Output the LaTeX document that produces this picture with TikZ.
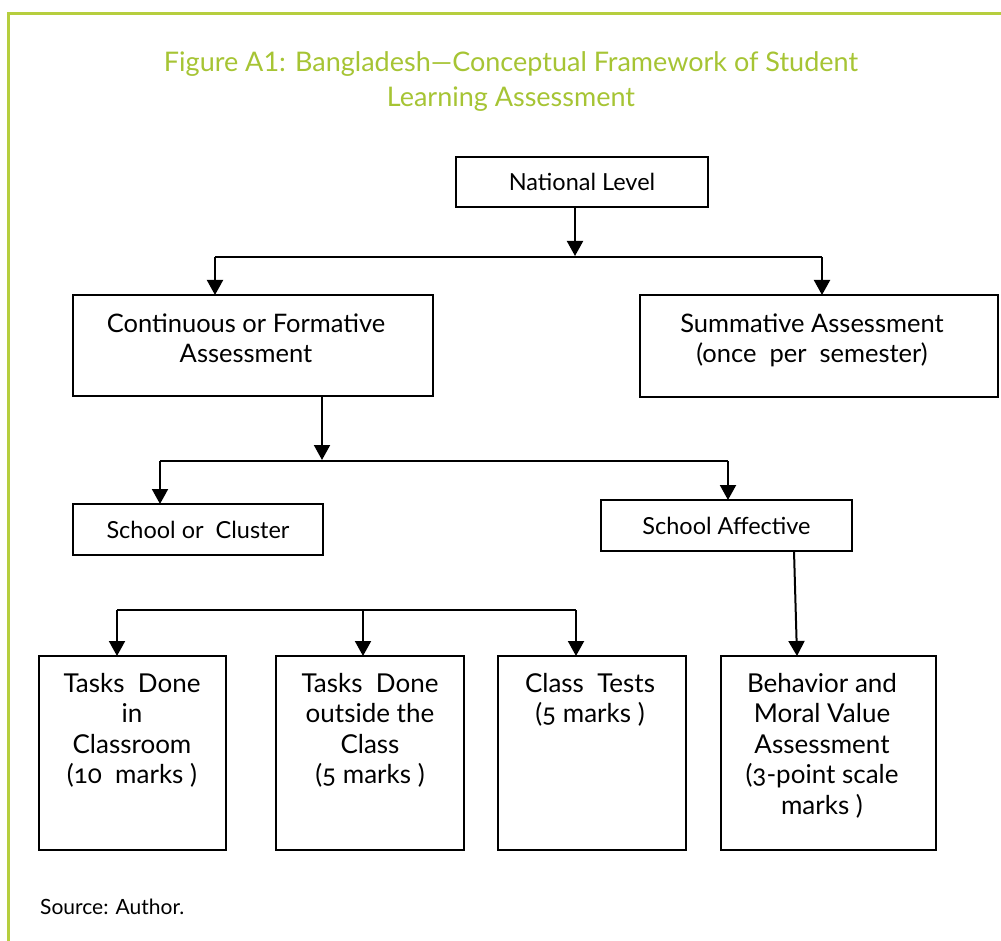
\documentclass[tikz,border=0pt]{standalone}
\usepackage{fontspec}
\setmainfont{Lato}[Numbers=OldStyle]
\usetikzlibrary{arrows.meta}
\definecolor{frameg}{RGB}{182,206,62}
\definecolor{titleg}{RGB}{166,196,52}
\begin{document}
\begin{tikzpicture}[x=1pt,y=-1pt,
  box/.style={draw=black, line width=1.6pt, rectangle, inner sep=0pt, outer sep=0pt},
  boxtxt/.style={font=\fontsize{25.5}{30}\selectfont, align=center, anchor=base, inner sep=0pt},
  lowtxt/.style={font=\fontsize{26}{30.5}\selectfont, align=center, anchor=base, inner sep=0pt},
  onetxt/.style={font=\fontsize{23.5}{28}\selectfont},
  ln/.style={draw=black, line width=2pt},
  arr/.style={ln, -{Triangle[width=16pt,length=15pt]}}]
\useasboundingbox (0,0) rectangle (1001,941);
% frame
\draw[frameg, line width=3pt] (8.5,941) -- (8.5,14) -- (1001,14);
% title (anchor base = last line)
\node[titleg, font=\fontsize{27}{35}\selectfont\addfontfeature{Numbers=Lining}, align=center, anchor=base, inner sep=0pt] (title) at (511,106.5)
  {Figure A1: Bangladesh---Conceptual Framework of Student\\Learning Assessment};
% boxes
\node[box, onetxt, minimum width=252pt, minimum height=50pt] (nat) at (582,182) {National Level};
\node[box, minimum width=360pt, minimum height=101pt] (cont) at (253,345.5) {};
\node[box, minimum width=358pt, minimum height=102pt] (summ) at (819,346) {};
\node[box, onetxt, minimum width=250pt, minimum height=51pt] (school) at (198,529.5) {School or\ \ Cluster};
\node[box, onetxt, minimum width=251pt, minimum height=51pt] (aff) at (726.5,525.5) {School Affective};
\node[box, minimum width=187pt, minimum height=194pt] (b1) at (132.5,753) {};
\node[box, minimum width=188pt, minimum height=194pt] (b2) at (370,753) {};
\node[box, minimum width=188pt, minimum height=194pt] (b3) at (592,753) {};
\node[box, minimum width=215pt, minimum height=194pt] (b4) at (828.5,753) {};
% box texts (anchor base = baseline of last line)
\node[boxtxt] (tcont) at (246,362) {Continuous or Formative\\Assessment};
\node[boxtxt] (tsumm) at (812,362) {Summative Assessment\\(once\ \ per\ \ semester)};
\node[lowtxt] (tb1) at (132,783.5) {Tasks\ \ Done\\in\\Classroom\\(10\ \ marks )};
\node[lowtxt] (tb2) at (370,783.5) {Tasks\ \ Done\\outside the\\Class\\(5 marks )};
\node[lowtxt] (tb3) at (590,722.5) {Class\ \ Tests\\(5 marks )};
\node[lowtxt] (tb4) at (822,814) {Behavior and\\Moral Value\\Assessment\\(3-point scale\\marks )};
% source
\node[font=\fontsize{21}{24}\selectfont, anchor=base west, inner sep=0pt] (src) at (40,914) {Source: Author.};
% connectors level 1
\coordinate (h1M) at (575,256);
\coordinate (h1L) at (215,257);
\coordinate (h1R) at (822,257);
\draw[arr] (nat.south -| h1M) -- (h1M);
\draw[ln] (h1L) -- (h1R);
\draw[arr] (h1L) -- (h1L |- cont.north);
\draw[arr] (h1R) -- (h1R |- summ.north);
% level 2
\coordinate (h2M) at (322,460);
\coordinate (h2L) at (160,461);
\coordinate (h2R) at (728,461);
\draw[arr] (cont.south -| h2M) -- (h2M);
\draw[ln] (h2L) -- (h2R);
\draw[arr] (h2L) -- (h2L |- school.north);
\draw[arr] (h2R) -- (h2R |- aff.north);
% affective to behavior
\draw[arr] ([xshift=67.5pt]aff.south) -- ([xshift=-31.5pt]b4.north);
% level 3
\coordinate (h3A) at (117,610);
\coordinate (h3B) at (363,610);
\coordinate (h3C) at (576,610);
\draw[ln] (h3A) -- (h3C);
\draw[arr] (h3A) -- (h3A |- b1.north);
\draw[arr] (h3B) -- (h3B |- b2.north);
\draw[arr] (h3C) -- (h3C |- b3.north);
\end{tikzpicture}
\end{document}
